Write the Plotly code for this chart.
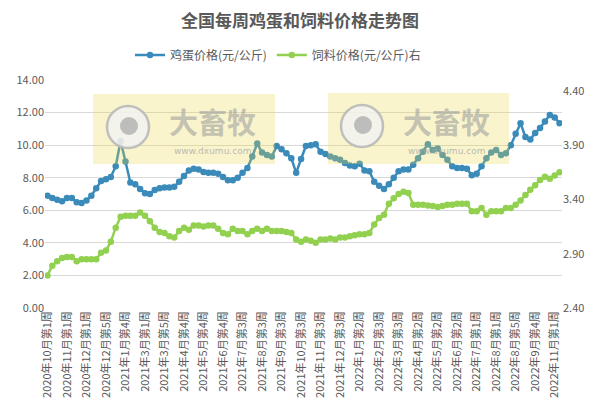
import plotly.graph_objects as go

# ---- data ----
month_names = ["2020年10月", "2020年11月", "2020年12月", "2021年1月", "2021年2月", "2021年3月",
               "2021年4月", "2021年5月", "2021年6月", "2021年7月", "2021年8月", "2021年9月",
               "2021年10月", "2021年11月", "2021年12月", "2022年1月", "2022年2月", "2022年3月",
               "2022年4月", "2022年5月", "2022年6月", "2022年7月", "2022年8月", "2022年9月",
               "2022年10月", "2022年11月"]
weeks_in_month = [4, 4, 5, 4, 3, 5, 4, 4, 5, 4, 4, 4, 4, 4, 5, 3, 4, 5, 4, 4, 5, 4, 5, 4, 3, 2]

weeks = []
for m, n in zip(month_names, weeks_in_month):
    for w in range(1, n + 1):
        weeks.append(f"{m}第{w}周")

egg_price = [6.9, 6.75, 6.65, 6.55, 6.75, 6.75, 6.5, 6.45, 6.6, 6.9,
             7.35, 7.8, 7.9, 8.05, 8.7, 10.25, 9.0, 7.7, 7.6, 7.3,
             7.05, 7.0, 7.25, 7.35, 7.4, 7.4, 7.45, 7.75, 8.1, 8.45,
             8.55, 8.5, 8.35, 8.3, 8.3, 8.25, 8.05, 7.85, 7.85, 8.0,
             8.3, 8.6, 9.3, 10.1, 9.55, 9.4, 9.3, 9.95, 9.75, 9.5,
             9.2, 8.3, 9.15, 9.95, 10.0, 10.05, 9.6, 9.45, 9.3, 9.2,
             9.1, 8.9, 8.75, 8.7, 8.85, 8.45, 8.4, 7.75, 7.5, 7.3,
             7.6, 8.0, 8.4, 8.5, 8.5, 8.8, 9.2, 9.6, 10.05, 9.7,
             9.8, 9.4, 9.1, 8.7, 8.6, 8.6, 8.55, 8.15, 8.25, 8.7,
             9.2, 9.55, 9.7, 9.4, 9.5, 10.0, 10.7, 11.35, 10.5, 10.35,
             10.75, 11.05, 11.45, 11.85, 11.7, 11.35]

feed_price = [2.70, 2.79, 2.83, 2.86, 2.87, 2.87, 2.83, 2.85, 2.85, 2.85,
              2.85, 2.91, 2.93, 3.01, 3.14, 3.24, 3.25, 3.25, 3.25, 3.28,
              3.25, 3.20, 3.14, 3.10, 3.09, 3.06, 3.05, 3.11, 3.14, 3.12,
              3.16, 3.16, 3.15, 3.16, 3.16, 3.13, 3.09, 3.08, 3.13, 3.11,
              3.11, 3.08, 3.11, 3.13, 3.11, 3.13, 3.11, 3.11, 3.11, 3.10,
              3.09, 3.03, 3.01, 3.03, 3.02, 3.00, 3.03, 3.03, 3.04, 3.03,
              3.05, 3.05, 3.06, 3.07, 3.08, 3.08, 3.09, 3.17, 3.23, 3.26,
              3.36, 3.41, 3.45, 3.47, 3.46, 3.35, 3.35, 3.35, 3.345, 3.34,
              3.33, 3.34, 3.35, 3.35, 3.36, 3.36, 3.36, 3.29, 3.29, 3.32,
              3.26, 3.29, 3.29, 3.29, 3.32, 3.32, 3.35, 3.39, 3.44, 3.49,
              3.53, 3.58, 3.61, 3.59, 3.62, 3.65]

left_ticks = [0, 2, 4, 6, 8, 10, 12, 14]
right_ticks = [2.4, 2.9, 3.4, 3.9, 4.4]
tick_every = 4

EGG_COLOR = "#3B8BBA"
FEED_COLOR = "#92D050"
TEXT_COLOR = "#595959"
FONT = "Noto Sans CJK SC, Microsoft YaHei, sans-serif"

# page body has an 8px margin: compensate so the picture lands where intended
OFF = 8
W, H = 600 - OFF, 414 - OFF
# intended plot-area edges in window pixels
L, R, T, B = 45, 562, 80, 308

def px(x):
    return (x - L) / (R - L)

def py(y):
    return (B - y) / (B - T)

fig = go.Figure()
fig.add_trace(go.Scatter(
    x=weeks, y=egg_price, name="鸡蛋价格(元/公斤)", mode="lines+markers",
    line=dict(color=EGG_COLOR, width=2.5), marker=dict(size=6.5, color=EGG_COLOR),
    yaxis="y"))
fig.add_trace(go.Scatter(
    x=weeks, y=feed_price, name="饲料价格(元/公斤)右", mode="lines+markers",
    line=dict(color=FEED_COLOR, width=2.5), marker=dict(size=6.5, color=FEED_COLOR),
    yaxis="y2"))

# ---- watermark decoration ----
shapes = []
annotations = []
for (rx0, rx1, ry0, ry1, cx, cy, tx) in [(93, 275, 94, 164, 128, 127, 212),
                                          (328, 509, 93, 164, 362, 126, 446)]:
    shapes.append(dict(type="rect", xref="paper", yref="paper",
                       x0=px(rx0), x1=px(rx1), y0=py(ry1), y1=py(ry0),
                       fillcolor="rgba(232,214,70,0.28)", line=dict(width=0), layer="above"))
    r = 21
    shapes.append(dict(type="circle", xref="paper", yref="paper",
                       x0=px(cx - r), x1=px(cx + r), y0=py(cy + r), y1=py(cy - r),
                       fillcolor="rgba(242,242,242,0.85)", line=dict(color="rgba(185,185,185,0.9)", width=2.5),
                       layer="above"))
    r2 = 9
    shapes.append(dict(type="circle", xref="paper", yref="paper",
                       x0=px(cx + 1 - r2), x1=px(cx + 1 + r2), y0=py(cy - 1 + r2), y1=py(cy - 1 - r2),
                       fillcolor="rgba(185,185,185,0.95)", line=dict(width=0), layer="above"))
    annotations.append(dict(text="<b>大畜牧</b>", xref="paper", yref="paper",
                            x=px(tx), y=py(121), xanchor="center", yanchor="middle", showarrow=False,
                            font=dict(family=FONT, size=29, color="rgba(160,160,160,0.6)")))
    annotations.append(dict(text="www.dxumu.com", xref="paper", yref="paper",
                            x=px(tx), y=py(151), xanchor="center", yanchor="middle", showarrow=False,
                            font=dict(family="DejaVu Sans", size=9, color="rgba(165,165,165,0.75)")))

fig.update_layout(
    width=W, height=H,
    margin=dict(l=L - OFF, r=600 - R, t=T - OFF, b=414 - B, autoexpand=False),
    paper_bgcolor="white", plot_bgcolor="white",
    font=dict(family=FONT, color=TEXT_COLOR, size=11),
    title=dict(text="<b>全国每周鸡蛋和饲料价格走势图</b>", x=(300 - OFF) / W, xanchor="center",
               y=1 - (21 - OFF) / H, yanchor="middle",
               font=dict(family=FONT, size=17, color=TEXT_COLOR)),
    showlegend=True,
    legend=dict(orientation="h", x=px(130), xanchor="left", y=py(55), yanchor="middle",
                font=dict(family=FONT, size=12, color=TEXT_COLOR), bgcolor="rgba(0,0,0,0)",
                itemwidth=30),
    xaxis=dict(type="category", range=[-0.5, len(weeks) - 0.5],
               tickmode="array", tickvals=weeks[::tick_every], ticktext=weeks[::tick_every],
               tickangle=-90, tickfont=dict(size=11, color=TEXT_COLOR),
               showgrid=False, showline=False, ticks="", zeroline=False, automargin=False),
    yaxis=dict(range=[0, 14], tickvals=left_ticks, tickformat=".2f",
               gridcolor="#D9D9D9", gridwidth=1, zeroline=False, showline=False,
               tickfont=dict(size=11, color=TEXT_COLOR), ticks="", automargin=False),
    yaxis2=dict(range=[2.4, 4.5], tickvals=right_ticks, tickformat=".2f",
                overlaying="y", side="right", showgrid=False, zeroline=False,
                tickfont=dict(size=11, color=TEXT_COLOR), automargin=False),
    shapes=shapes, annotations=annotations,
)

fig.write_html("out.html")
